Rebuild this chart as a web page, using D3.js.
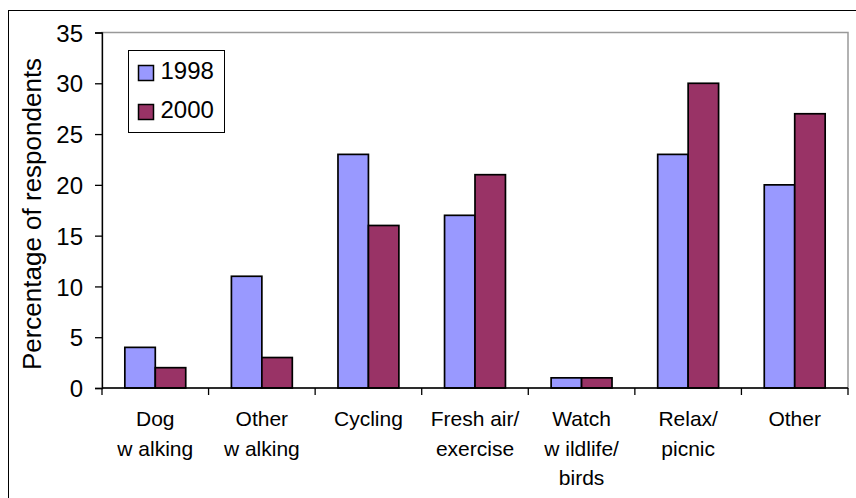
<!DOCTYPE html>
<html>
<head>
<meta charset="utf-8">
<script src="https://cdn.jsdelivr.net/npm/d3@7"></script>
<style>
  body { margin: 0; background: #fff; }
  text { font-family: "Liberation Sans", Arial, sans-serif; fill: #000; }
</style>
</head>
<body>
<script>
// categories (each label split into lines as on the original)
var categories = ["Dog walking", "Other walking", "Cycling", "Fresh air/exercise",
                  "Watch wildlife/birds", "Relax/picnic", "Other"];
var categoryLines = [["Dog", "w alking"], ["Other", "w alking"], ["Cycling"],
                     ["Fresh air/", "exercise"], ["Watch", "w ildlife/", "birds"],
                     ["Relax/", "picnic"], ["Other"]];
var seriesNames = ["1998", "2000"];
var values1998 = [4, 11, 23, 17, 1, 23, 20];
var values2000 = [2, 3, 16, 21, 1, 30, 27];
var yTicks = [0, 5, 10, 15, 20, 25, 30, 35];
var colors = ["#9999ff", "#993366"];

var W = 856, H = 498;
var margin = { top: 32.5, right: 8, bottom: 110, left: 102 },
    width = 848 - margin.left,
    height = 388 - margin.top;

var svg = d3.select("body")
    .append("svg")
    .attr("width", W)
    .attr("height", H);

// outer chart frame
svg.append("rect")
    .attr("x", 8.5).attr("y", 10.5)
    .attr("width", W + 10).attr("height", H + 10)
    .attr("fill", "none")
    .attr("stroke", "#000")
    .attr("stroke-width", 1);

var g = svg.append("g")
    .attr("transform", "translate(" + margin.left + "," + margin.top + ")");

var x = d3.scaleBand()
    .domain(categories)
    .range([0, width]);

var y = d3.scaleLinear()
    .domain([0, 35])
    .range([height, 0]);

// plot area border (gray)
g.append("rect")
    .attr("x", 0).attr("y", 0)
    .attr("width", width).attr("height", height)
    .attr("fill", "none")
    .attr("stroke", "#999")
    .attr("stroke-width", 1.5);

// bars
var barW = x.bandwidth() / 3.5;
var data = categories.map(function(c, i) {
    return { cat: c, vals: [values1998[i], values2000[i]] };
});

data.forEach(function(d) {
    d.vals.forEach(function(v, s) {
        g.append("rect")
            .attr("x", x(d.cat) + barW * 0.75 + s * barW)
            .attr("y", y(v))
            .attr("width", barW)
            .attr("height", y(0) - y(v))
            .attr("fill", colors[s])
            .attr("stroke", "#000")
            .attr("stroke-width", 1.7);
    });
});

// Y axis
var yAxis = g.append("g")
    .call(d3.axisLeft(y).tickValues(yTicks).tickSize(7).tickPadding(12));
yAxis.select(".domain").attr("stroke", "#000").attr("stroke-width", 1.3);
yAxis.selectAll(".tick line").attr("stroke", "#000").attr("stroke-width", 1.3);
yAxis.selectAll("text").style("font-size", "24px").attr("dy", "0.36em");

// X axis: ticks at band boundaries
var xAxis = g.append("g").attr("transform", "translate(0," + height + ")");
xAxis.append("line")
    .attr("x1", 0).attr("x2", width)
    .attr("stroke", "#000").attr("stroke-width", 1.3);
xAxis.selectAll(".xtick")
    .data(d3.range(categories.length + 1))
    .enter()
    .append("line")
    .attr("x1", function(i) { return i * x.step(); })
    .attr("x2", function(i) { return i * x.step(); })
    .attr("y1", 0).attr("y2", 7)
    .attr("stroke", "#000").attr("stroke-width", 1.3);

// X labels
xAxis.selectAll(".xlabel")
    .data(categories)
    .enter()
    .append("text")
    .attr("text-anchor", "middle")
    .style("font-size", "21px")
    .each(function(c, i) {
        var t = d3.select(this);
        categoryLines[i].forEach(function(line, j) {
            t.append("tspan")
                .attr("x", x(c) + x.bandwidth() / 2)
                .attr("y", 38 + j * 29.5)
                .text(line);
        });
    });

// Y axis label
svg.append("text")
    .attr("transform", "translate(41," + 214 + ") rotate(-90)")
    .attr("text-anchor", "middle")
    .style("font-size", "26px")
    .text("Percentage of respondents");

// legend
var legend = svg.append("g").attr("transform", "translate(128.5,50.5)");
legend.append("rect")
    .attr("width", 96).attr("height", 82)
    .attr("fill", "#fff")
    .attr("stroke", "#000")
    .attr("stroke-width", 1);
seriesNames.forEach(function(name, i) {
    legend.append("rect")
        .attr("x", 10).attr("y", 15 + i * 39)
        .attr("width", 15).attr("height", 15)
        .attr("fill", colors[i])
        .attr("stroke", "#000")
        .attr("stroke-width", 1.5);
    legend.append("text")
        .attr("x", 32).attr("y", 28 + i * 39)
        .style("font-size", "24px")
        .text(name);
});
</script>
</body>
</html>
